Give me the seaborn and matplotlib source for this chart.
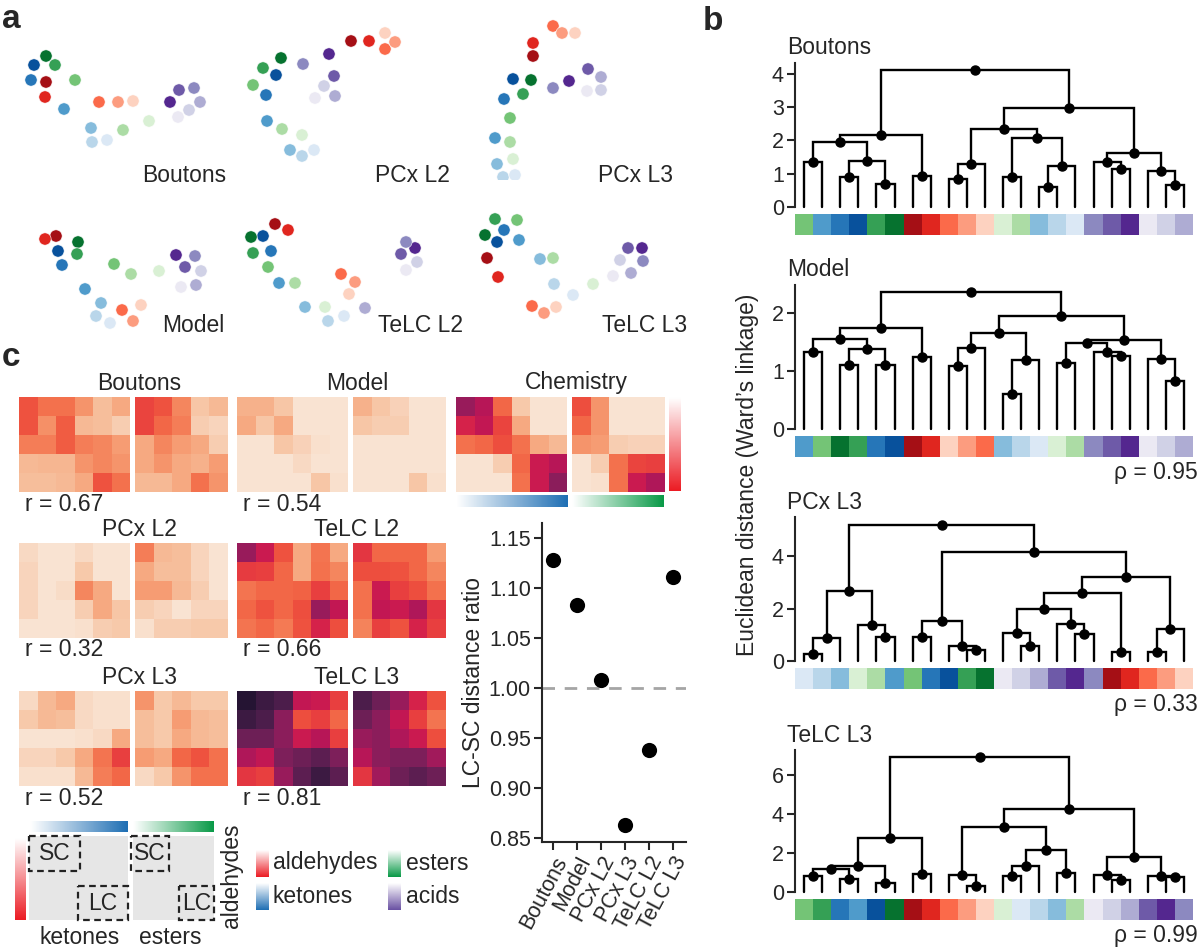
import numpy as np
import matplotlib.pyplot as plt
import seaborn as sns
from matplotlib.colors import LinearSegmentedColormap, ListedColormap
from matplotlib.patches import Rectangle

# =========================================
# 1. ODORS + COLORS
# =========================================
odors = ['ald1', 'ald2', 'ald3', 'ald4', 'ald5',
         'ket1', 'ket2', 'ket3', 'ket4', 'ket5', 'ket6',
         'est1', 'est2', 'est3', 'est4', 'est5',
         'acd1', 'acd2', 'acd3', 'acd4', 'acd5', 'acd6']
odor_colors = ['#a50f15', '#e0261f', '#fb6a4a', '#fc9c7f', '#fdd2c0',
               '#08519c', '#2676b8', '#4f9bcb', '#86bcdc', '#b9d6ea', '#dbe8f5',
               '#06722f', '#35a055', '#74c476', '#acdca5', '#d9f0d4',
               '#54278f', '#6e5aa8', '#8c89c0', '#aeacd3', '#d0d1e6', '#ebe9f3']
palette = dict(zip(odors, odor_colors))

# =========================================
# 2. PANEL A - 2D EMBEDDINGS (same odor order as above)
# =========================================
emb_names = ['Boutons', 'PCx L2', 'PCx L3', 'Model', 'TeLC L2', 'TeLC L3']
boutons_x = [36, 35, 89, 108, 123, 24, 21, 54, 81, 82, 97, 36, 45, 65, 113, 139, 160, 169, 184, 190, 179, 168]
boutons_y = [72, 87, 92, 92, 91, 55, 70, 99, 118, 132, 130, 46, 55, 70, 120, 111, 92, 80, 78, 92, 100, 107]
pcx2_x = [111, 129, 145, 155, 145, 36, 26, 27, 50, 62, 74, 41, 23, 13, 42, 62, 89, 94, 63, 95, 84, 75]
pcx2_y = [31, 31, 39, 32, 23, 65, 85, 111, 140, 146, 140, 48, 58, 75, 119, 125, 44, 66, 54, 86, 76, 88]
pcx3_x = [63, 63, 83, 92, 105, 43, 34, 25, 27, 33, 45, 61, 53, 40, 40, 43, 99, 118, 83, 131, 131, 117]
pcx3_y = [46, 33, 16, 23, 23, 69, 89, 128, 154, 167, 165, 70, 84, 108, 132, 149, 71, 59, 78, 67, 80, 81]
model_x = [46, 35, 112, 123, 131, 48, 52, 75, 91, 86, 100, 68, 67, 104, 121, 149, 166, 175, 185, 186, 191, 171]
model_y = [51, 54, 125, 136, 120, 66, 80, 104, 118, 131, 138, 57, 69, 79, 89, 86, 70, 82, 71, 100, 86, 102]
telc2_x = [35, 48, 101, 115, 109, 23, 31, 39, 65, 88, 104, 11, 13, 28, 55, 85, 175, 161, 166, 125, 177, 166]
telc2_y = [39, 45, 89, 97, 109, 51, 66, 98, 122, 136, 131, 52, 68, 82, 98, 122, 63, 69, 57, 123, 77, 85]
telc3_x = [17, 28, 62, 74, 86, 27, 34, 49, 70, 84, 103, 15, 25, 47, 83, 123, 172, 158, 173, 161, 150, 143]
telc3_y = [73, 92, 121, 128, 122, 57, 45, 55, 74, 99, 110, 50, 34, 35, 73, 99, 63, 63, 76, 88, 75, 91]

# =========================================
# 3. PANEL B - DENDROGRAMS (child a, child b, height); nodes 22.. in order
# =========================================
dendro_names = ['Boutons', 'Model', 'PCx L3', 'TeLC L3']
rho_labels = [None, 'ρ = 0.95', 'ρ = 0.33', 'ρ = 0.99']

boutons_order = ['est3', 'ket3', 'ket2', 'ket1', 'est2', 'est1', 'ald1', 'ald2', 'ald3', 'ald4', 'ald5',
                 'est5', 'est4', 'ket4', 'ket5', 'ket6', 'acd3', 'acd2', 'acd1', 'acd6', 'acd5', 'acd4']
boutons_link = [(0, 1, 1.35), (2, 3, 0.89), (4, 5, 0.70), (23, 24, 1.38), (22, 25, 1.96),
                (6, 7, 0.94), (26, 27, 2.15), (8, 9, 0.84), (29, 10, 1.30), (11, 12, 0.89),
                (13, 14, 0.60), (32, 15, 1.24), (31, 33, 2.07), (30, 34, 2.35), (17, 18, 1.14),
                (16, 36, 1.35), (20, 21, 0.65), (19, 38, 1.07), (37, 39, 1.62), (35, 40, 2.97),
                (28, 41, 4.10)]

model_order = ['ket3', 'est3', 'est1', 'est2', 'ket2', 'ket1', 'ald1', 'ald2', 'ald5', 'ald4', 'ald3',
               'ket4', 'ket5', 'ket6', 'est5', 'est4', 'acd3', 'acd2', 'acd1', 'acd6', 'acd5', 'acd4']
model_link = [(0, 1, 1.32), (2, 3, 1.10), (4, 5, 1.11), (23, 24, 1.37), (22, 25, 1.55),
              (6, 7, 1.24), (26, 27, 1.74), (8, 9, 1.09), (29, 10, 1.39), (11, 12, 0.60),
              (31, 13, 1.19), (30, 32, 1.65), (14, 15, 1.14), (17, 18, 1.26), (16, 35, 1.33),
              (34, 36, 1.48), (20, 21, 0.83), (19, 38, 1.20), (37, 39, 1.53), (33, 40, 1.95),
              (28, 41, 2.36)]

pcx3_order = ['ket6', 'ket5', 'ket4', 'est5', 'est4', 'ket3', 'est3', 'ket2', 'ket1', 'est2', 'est1',
              'acd6', 'acd5', 'acd4', 'acd2', 'acd1', 'acd3', 'ald1', 'ald2', 'ald3', 'ald4', 'ald5']
pcx3_link = [(0, 1, 0.25), (22, 2, 0.88), (4, 5, 0.91), (3, 24, 1.38), (23, 25, 2.67),
             (6, 7, 0.91), (9, 10, 0.41), (8, 28, 0.56), (27, 29, 1.52), (12, 13, 0.56),
             (11, 31, 1.07), (15, 16, 1.04), (14, 33, 1.42), (32, 34, 1.97), (17, 18, 0.34),
             (35, 36, 2.59), (19, 20, 0.34), (38, 21, 1.23), (37, 39, 3.20), (30, 40, 4.15),
             (26, 41, 5.19)]

telc3_order = ['est3', 'est2', 'ket2', 'ket3', 'ket1', 'est1', 'ald1', 'ald2', 'ald3', 'ald4', 'ald5',
               'est5', 'ket6', 'ket5', 'ket4', 'est4', 'acd6', 'acd5', 'acd4', 'acd2', 'acd1', 'acd3']
telc3_link = [(0, 1, 0.83), (2, 3, 0.68), (22, 23, 1.17), (4, 5, 0.46), (24, 25, 1.34),
              (6, 7, 0.92), (26, 27, 2.76), (9, 10, 0.32), (8, 29, 0.89), (11, 12, 0.83),
              (31, 13, 1.34), (14, 15, 0.97), (32, 33, 2.16), (30, 34, 3.35), (17, 18, 0.60),
              (16, 36, 0.89), (20, 21, 0.77), (19, 38, 0.80), (37, 39, 1.77), (35, 40, 4.27),
              (28, 41, 6.93)]

# =========================================
# 4. PANEL C - distance matrices (aldehydes x [6 ketones | 5 esters])
# =========================================
hm_names = ['Boutons', 'Model', 'Chemistry', 'PCx L2', 'TeLC L2', 'PCx L3', 'TeLC L3']
hm_r = ['r = 0.67', 'r = 0.54', None, 'r = 0.32', 'r = 0.66', 'r = 0.52', 'r = 0.81']
boutons_hm = [[0.36, 0.30, 0.30, 0.22, 0.12, 0.17, 0.39, 0.36, 0.25, 0.10, 0.13],
              [0.36, 0.23, 0.34, 0.13, 0.12, 0.08, 0.39, 0.32, 0.27, 0.08, 0.06],
              [0.27, 0.27, 0.34, 0.27, 0.25, 0.20, 0.17, 0.25, 0.20, 0.17, 0.08],
              [0.13, 0.14, 0.14, 0.22, 0.25, 0.22, 0.17, 0.22, 0.17, 0.15, 0.20],
              [0.12, 0.12, 0.13, 0.17, 0.36, 0.30, 0.13, 0.13, 0.17, 0.30, 0.22]]
model_hm = [[0.15, 0.15, 0.10, 0.02, 0.02, 0.02, 0.15, 0.10, 0.07, 0.02, 0.02],
            [0.17, 0.10, 0.17, 0.02, 0.02, 0.02, 0.10, 0.08, 0.08, 0.02, 0.02],
            [0.02, 0.02, 0.10, 0.07, 0.03, 0.02, 0.02, 0.02, 0.02, 0.02, 0.02],
            [0.02, 0.02, 0.02, 0.05, 0.02, 0.02, 0.02, 0.02, 0.02, 0.02, 0.02],
            [0.02, 0.02, 0.02, 0.02, 0.10, 0.03, 0.02, 0.02, 0.02, 0.10, 0.03]]
chem_hm = [[0.62, 0.55, 0.32, 0.09, 0.02, 0.02, 0.37, 0.22, 0.02, 0.02, 0.02],
           [0.47, 0.52, 0.39, 0.17, 0.02, 0.02, 0.32, 0.22, 0.02, 0.02, 0.02],
           [0.30, 0.32, 0.37, 0.30, 0.17, 0.13, 0.22, 0.20, 0.08, 0.07, 0.07],
           [0.02, 0.02, 0.08, 0.32, 0.50, 0.55, 0.02, 0.08, 0.30, 0.39, 0.40],
           [0.02, 0.02, 0.02, 0.30, 0.50, 0.65, 0.02, 0.03, 0.30, 0.50, 0.57]]
pcx2_hm = [[0.05, 0.02, 0.02, 0.05, 0.02, 0.02, 0.27, 0.13, 0.12, 0.06, 0.02],
           [0.06, 0.02, 0.02, 0.09, 0.02, 0.02, 0.17, 0.12, 0.12, 0.06, 0.02],
           [0.06, 0.02, 0.04, 0.25, 0.17, 0.02, 0.20, 0.20, 0.13, 0.08, 0.02],
           [0.06, 0.02, 0.02, 0.08, 0.17, 0.10, 0.08, 0.06, 0.02, 0.06, 0.06],
           [0.02, 0.02, 0.02, 0.03, 0.08, 0.09, 0.03, 0.08, 0.08, 0.09, 0.09]]
telc2_hm = [[0.62, 0.50, 0.36, 0.17, 0.29, 0.17, 0.42, 0.32, 0.32, 0.32, 0.20],
            [0.41, 0.40, 0.32, 0.17, 0.30, 0.25, 0.37, 0.37, 0.36, 0.32, 0.25],
            [0.29, 0.32, 0.32, 0.33, 0.40, 0.32, 0.30, 0.50, 0.40, 0.37, 0.30],
            [0.32, 0.36, 0.32, 0.37, 0.62, 0.52, 0.30, 0.52, 0.50, 0.57, 0.42],
            [0.29, 0.32, 0.28, 0.36, 0.47, 0.37, 0.26, 0.40, 0.36, 0.47, 0.40]]
pcx3_hm = [[0.05, 0.13, 0.17, 0.05, 0.03, 0.03, 0.22, 0.09, 0.13, 0.09, 0.09],
           [0.09, 0.13, 0.12, 0.05, 0.03, 0.03, 0.12, 0.09, 0.20, 0.13, 0.12],
           [0.02, 0.02, 0.02, 0.03, 0.05, 0.17, 0.12, 0.09, 0.17, 0.13, 0.12],
           [0.06, 0.06, 0.09, 0.17, 0.29, 0.40, 0.20, 0.17, 0.32, 0.36, 0.30],
           [0.03, 0.03, 0.03, 0.13, 0.27, 0.32, 0.05, 0.09, 0.22, 0.30, 0.30]]
telc3_hm = [[0.90, 0.84, 0.80, 0.52, 0.50, 0.40, 0.80, 0.72, 0.62, 0.47, 0.36],
            [0.84, 0.80, 0.65, 0.37, 0.40, 0.32, 0.72, 0.65, 0.52, 0.40, 0.29],
            [0.72, 0.72, 0.65, 0.50, 0.55, 0.40, 0.62, 0.65, 0.57, 0.50, 0.37],
            [0.57, 0.52, 0.68, 0.72, 0.76, 0.68, 0.55, 0.65, 0.68, 0.68, 0.60],
            [0.42, 0.40, 0.62, 0.76, 0.84, 0.76, 0.42, 0.60, 0.72, 0.76, 0.72]]

# LC-SC ratio
ratio_names = ['Boutons', 'Model', 'PCx L2', 'PCx L3', 'TeLC L2', 'TeLC L3']
ratio_vals = [1.128, 1.083, 1.008, 0.863, 0.938, 1.111]

class_names = ['aldehydes', 'ketones', 'esters', 'acids']
class_colors = ['#ec1c24', '#1f6fb4', '#0a9a48', '#6a51a3']

# =========================================
# 5. FIGURE SETUP
# =========================================
sns.set_theme(style='ticks')
plt.rcParams['font.family'] = ['Liberation Sans', 'DejaVu Sans']
plt.rcParams['axes.linewidth'] = 1.5

W, H = 1200, 947
fig = plt.figure(figsize=(W / 100, H / 100), dpi=100)
FS = 16.5
TFS = 15.5


def box(x, y, w, h):
    # axes from a pixel box (top-left origin)
    return fig.add_axes([x / W, 1 - (y + h) / H, w / W, h / H])


def ftext(x, y, s, **kw):
    fig.text(x / W, 1 - y / H, s, **kw)


def gradient(ax, color, vertical=False):
    cmap = LinearSegmentedColormap.from_list('g', ['white', color])
    g = np.linspace(0, 1, 100)
    ax.imshow(g[:, None] if vertical else g[None, :], cmap=cmap, aspect='auto')
    ax.axis('off')


# panel letters
ftext(2, 20, 'a', fontsize=24, fontweight='bold', va='center')
ftext(703, 22, 'b', fontsize=24, fontweight='bold', va='center')
ftext(2, 357, 'c', fontsize=24, fontweight='bold', va='center')

# =========================================
# 6. PANEL A
# =========================================
emb_data = [(boutons_x, boutons_y), (pcx2_x, pcx2_y), (pcx3_x, pcx3_y),
            (model_x, model_y), (telc2_x, telc2_y), (telc3_x, telc3_y)]
label_pos = [(216, 165), (210, 165), (203, 165), (214, 141), (223, 141), (217, 141)]
for i, (name, (ex, ey)) in enumerate(zip(emb_names, emb_data)):
    ax = box([10, 240, 470][i % 3], [10, 185][i // 3], 225, 170)
    sns.scatterplot(x=ex, y=ey, hue=odors, palette=palette, s=78, linewidth=0.4,
                    edgecolor='white', legend=False, ax=ax)
    ax.set_xlim(0, 225)
    ax.set_ylim(170, 0)
    ax.axis('off')
    ax.text(label_pos[i][0], label_pos[i][1], name, ha='right', va='center', fontsize=FS)

# =========================================
# 7. PANEL B - dendrograms
# =========================================


def draw_dendro(ax, links, n=22):
    xs = {i: float(i) for i in range(n)}
    hs = {i: 0.0 for i in range(n)}
    for k, (a, b, h) in enumerate(links):
        ax.plot([xs[a], xs[a], xs[b], xs[b]], [hs[a], h, h, hs[b]], color='black',
                lw=1.7, clip_on=False, solid_joinstyle='miter')
        node = n + k
        xs[node] = (xs[a] + xs[b]) / 2
        hs[node] = h
        ax.plot(xs[node], h, 'o', color='black', ms=6.5, clip_on=False)


dendro_orders = [boutons_order, model_order, pcx3_order, telc3_order]
dendro_links = [boutons_link, model_link, pcx3_link, telc3_link]
dendro_box = [(63, 144, 4.32, [0, 1, 2, 3, 4]), (285, 144, 2.48, [0, 1, 2]),
              (517, 144, 5.49, [0, 2, 4]), (750, 142, 7.28, [0, 2, 4, 6])]
for i in range(4):
    top, hgt, ymax, ticks = dendro_box[i]
    ax = box(795, top, 398, hgt)
    draw_dendro(ax, dendro_links[i])
    ax.set_xlim(-0.5, 21.5)
    ax.set_ylim(0, ymax)
    ax.set_yticks(ticks)
    ax.set_xticks([])
    sns.despine(ax=ax, bottom=True)
    ax.tick_params(axis='y', direction='out', length=6, width=1.5, labelsize=TFS, pad=2)
    ftext(787, top - 15, dendro_names[i], fontsize=FS, va='center')

    bar = box(795, top + hgt + 7, 398, 21)
    sns.heatmap(np.arange(22)[None, :], cmap=ListedColormap([palette[o] for o in dendro_orders[i]]),
                cbar=False, xticklabels=False, yticklabels=False, ax=bar)
    if rho_labels[i]:
        ftext(1198, top + hgt + 43, rho_labels[i], fontsize=FS, ha='right', va='center')

ftext(747, 475, 'Euclidean distance (Ward\u2019s linkage)', fontsize=FS, rotation=90,
      ha='center', va='center')

# =========================================
# 8. PANEL C - heatmaps
# =========================================
hm_data = [boutons_hm, model_hm, chem_hm, pcx2_hm, telc2_hm, pcx3_hm, telc3_hm]
hm_pos = [(19, 397), (237, 397), (456, 397), (19, 543), (237, 543), (19, 691), (237, 691)]
for name, r, data, (xl, yt) in zip(hm_names, hm_r, hm_data, hm_pos):
    arr = np.array(data)
    for xo, w, block in [(0, 111, arr[:, :6]), (116, 93, arr[:, 6:])]:
        ax = box(xl + xo, yt, w, 95)
        sns.heatmap(block, cmap='rocket_r', vmin=0, vmax=1, cbar=False,
                    xticklabels=False, yticklabels=False, ax=ax)
    ftext(xl + 120, yt - 14, name, fontsize=FS, ha='center', va='center')
    if r:
        ftext(xl + 6, yt + 107, r, fontsize=FS, ha='left', va='center')

# chemistry class bars
gradient(box(669, 397, 12, 94), class_colors[0], vertical=True)
gradient(box(456, 495, 112, 12), class_colors[1])
gradient(box(572, 495, 92, 12), class_colors[2])

# schematic (SC / LC)
gradient(box(30, 821, 98, 11), class_colors[1])
gradient(box(133, 821, 81, 11), class_colors[2])
gradient(box(15, 838, 11, 82), class_colors[0], vertical=True)
gray = ListedColormap(['#e6e6e6'])
schem = [(29, 99, 6, (0, 0, 3.1, 2.1), (2.95, 3, 3.05, 2.0)),
         (133, 81, 5, (-0.1, 0, 2.3, 2.1), (2.85, 3, 2.15, 2.0))]
for xl, w, ncol, sc, lc in schem:
    ax = box(xl, 836, w, 84)
    sns.heatmap(np.zeros((5, ncol)), cmap=gray, cbar=False, xticklabels=False,
                yticklabels=False, ax=ax)
    for (rx, ry, rw, rh), lab in [(sc, 'SC'), (lc, 'LC')]:
        ax.add_patch(Rectangle((rx, ry), rw, rh, fill=False, ls=(0, (3, 2)), lw=1.6,
                               ec='#222222', clip_on=False))
        ax.text(rx + rw / 2, ry + rh / 2, lab, ha='center', va='center', fontsize=FS)
ftext(80, 937, 'ketones', fontsize=FS, ha='center', va='center')
ftext(170, 937, 'esters', fontsize=FS, ha='center', va='center')
ftext(232, 876, 'aldehydes', fontsize=FS, ha='center', va='center', rotation=90)

# class legend chips
chip_pos = [(256, 850, 273), (256, 883, 273), (388, 850, 406), (388, 883, 406)]
for cname, ccol, (cx, cy, tx) in zip(class_names, class_colors, chip_pos):
    gradient(box(cx, cy, 13, 27), ccol, vertical=True)
    ftext(tx, cy + 13, cname, fontsize=FS, ha='left', va='center')

# =========================================
# 9. PANEL C - LC-SC distance ratio
# =========================================
ax = box(542, 523, 144, 319)
ax.axhline(1.0, color='#a5a5a5', lw=2, ls=(0, (4.5, 3.5)), zorder=0)
sns.scatterplot(x=ratio_names, y=ratio_vals, color='black', s=120, linewidth=0, ax=ax, zorder=3)
ax.set_xlim(-0.45, 5.55)
ax.set_ylim(0.846, 1.165)
ax.set_yticks([0.85, 0.90, 0.95, 1.00, 1.05, 1.10, 1.15])
ax.set_yticklabels(['%.2f' % v for v in [0.85, 0.90, 0.95, 1.00, 1.05, 1.10, 1.15]])
ax.set_xticks(range(len(ratio_names)))
ax.set_xticklabels(ratio_names, rotation=62, ha='right', rotation_mode='anchor')
ax.set_ylabel('LC-SC distance ratio', fontsize=FS, labelpad=3)
sns.despine(ax=ax)
ax.tick_params(direction='out', length=6, width=1.5, labelsize=TFS, pad=2)

plt.savefig('out.png', dpi=100)
print('saved')
